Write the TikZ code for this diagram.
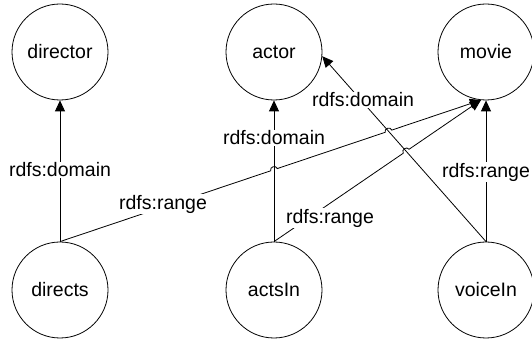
\documentclass[tikz,border=0pt]{standalone}
\usepackage{fontspec}
\setmainfont{Liberation Sans}
\usetikzlibrary{arrows.meta,calc,intersections}
\begin{document}
\begin{tikzpicture}[x=1pt,y=1pt,
  cls/.style={circle,draw,line width=0.8pt,minimum size=96pt,inner sep=0pt,font=\fontsize{19.5}{23}\selectfont},
  edge/.style={line width=0.8pt,-{Triangle[length=11pt,width=10pt]}},
  lbl/.style={fill=white,inner sep=1pt,font=\fontsize{19.5}{23}\selectfont},
  hop/.style={bend left=90,looseness=1.5}]
\useasboundingbox (0,0) rectangle (532,342);
\node[cls] (director) at (60,290) {director};
\node[cls] (actor) at (274,290) {actor};
\node[cls] (movie) at (486,290) {movie};
\node[cls] (directs) at (60,52) {directs};
\node[cls] (actsIn) at (274,52) {actsIn};
\node[cls] (voiceIn) at (486,52) {voiceIn};
\coordinate (mt) at (movie.-96);
\path[name path=av] (actsIn.north) -- (actor.south);
\path[name path=va] (voiceIn.north) -- (actor.-5);
\path[name path=dm] (directs.north) -- (mt);
\path[name path=am] (actsIn.north) -- (mt);
\path[name intersections={of=dm and av, by=xa}];
\path[name intersections={of=dm and va, by=xb}];
\path[name intersections={of=am and va, by=xc}];
\draw[edge] (directs.north) -- (director.south);
\draw[edge] (actsIn.north) -- (actor.south);
\draw[edge] (voiceIn.north) -- (movie.south);
\draw[edge] (voiceIn.north) -- (actor.-5);
\draw[edge] (directs.north) -- ($(xa)!3.5pt!(directs.north)$) to[hop] ($(xa)!3.5pt!(mt)$)
  -- ($(xb)!3.5pt!(directs.north)$) to[hop] ($(xb)!3.5pt!(mt)$) -- (mt);
\draw[edge] (actsIn.north) -- ($(xc)!3.5pt!(actsIn.north)$) to[hop] ($(xc)!3.5pt!(mt)$) -- (mt);
\node[lbl] (l1) at (60,172) {rdfs:domain};
\node[lbl] (l2) at (274,204) {rdfs:domain};
\node[lbl] (l3) at (363,242) {rdfs:domain};
\node[lbl] (l4) at (163,138) {rdfs:range};
\node[lbl] (l5) at (330,124) {rdfs:range};
\node[lbl] (l6) at (486,170) {rdfs:range};
\end{tikzpicture}
\end{document}
